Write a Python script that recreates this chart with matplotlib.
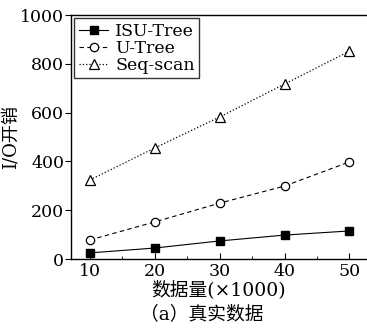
import matplotlib
matplotlib.use("Agg")
import matplotlib.pyplot as plt
from matplotlib.ticker import MultipleLocator

plt.rcParams['font.family'] = ['DejaVu Serif', 'Noto Sans CJK SC']

x = [10, 20, 30, 40, 50]
isu_tree = [25, 45, 74, 98, 115]
u_tree = [78, 152, 229, 299, 398]
seq_scan = [324, 455, 582, 717, 852]
xticks = [10, 20, 30, 40, 50]
yticks = [0, 200, 400, 600, 800, 1000]

fig = plt.figure(figsize=(3.67, 3.30), dpi=100)
ax = fig.add_axes([71/367, 1 - 259/330, 1 - 71/367, (259 - 15)/330])

ax.plot(x, isu_tree, '-', color='black', lw=0.8, marker='s', ms=6,
        mfc='black', mec='black', label='ISU-Tree')
ax.plot(x, u_tree, '--', color='black', lw=0.8, marker='o', ms=6,
        mfc='white', mec='black', mew=0.9, label='U-Tree', dashes=(4, 3))
ax.plot(x, seq_scan, ':', color='black', lw=0.9, marker='^', ms=7,
        mfc='white', mec='black', mew=0.9, label='Seq-scan')

ax.set_xlim(7.1, 52.7)
ax.set_ylim(0, 1000)
ax.set_xticks(xticks)
ax.set_yticks(yticks)
ax.xaxis.set_minor_locator(MultipleLocator(5))
ax.yaxis.set_minor_locator(MultipleLocator(100))
ax.tick_params(axis='x', which='major', direction='in', length=4, width=0.8, labelsize=12.5, pad=3)
ax.tick_params(axis='x', which='minor', direction='in', length=2, width=0.6)
ax.tick_params(axis='y', which='major', direction='out', length=4, width=0.8, labelsize=12.5, pad=1)
ax.tick_params(axis='y', which='minor', direction='out', length=0)
for s in ['left', 'bottom', 'top']:
    ax.spines[s].set_linewidth(1.0)
ax.spines['right'].set_visible(False)

ax.set_ylabel('I/O开销', fontsize=13)
ax.yaxis.set_label_coords((20 - 71) / 296, 0.5)
ax.set_xlabel('数据量(×1000)', fontsize=13.5, labelpad=0)

leg = ax.legend(loc='upper left', fontsize=12.5, frameon=True, fancybox=False,
                edgecolor='black', handlelength=1.7, handletextpad=0.4,
                borderpad=0.25, labelspacing=0.0, borderaxespad=0.2)
leg.get_frame().set_linewidth(1.0)

fig.text(202/367, 1 - 314/330, '（a）真实数据', ha='center', va='center', fontsize=13.5)

fig.savefig('out.png', dpi=100)
